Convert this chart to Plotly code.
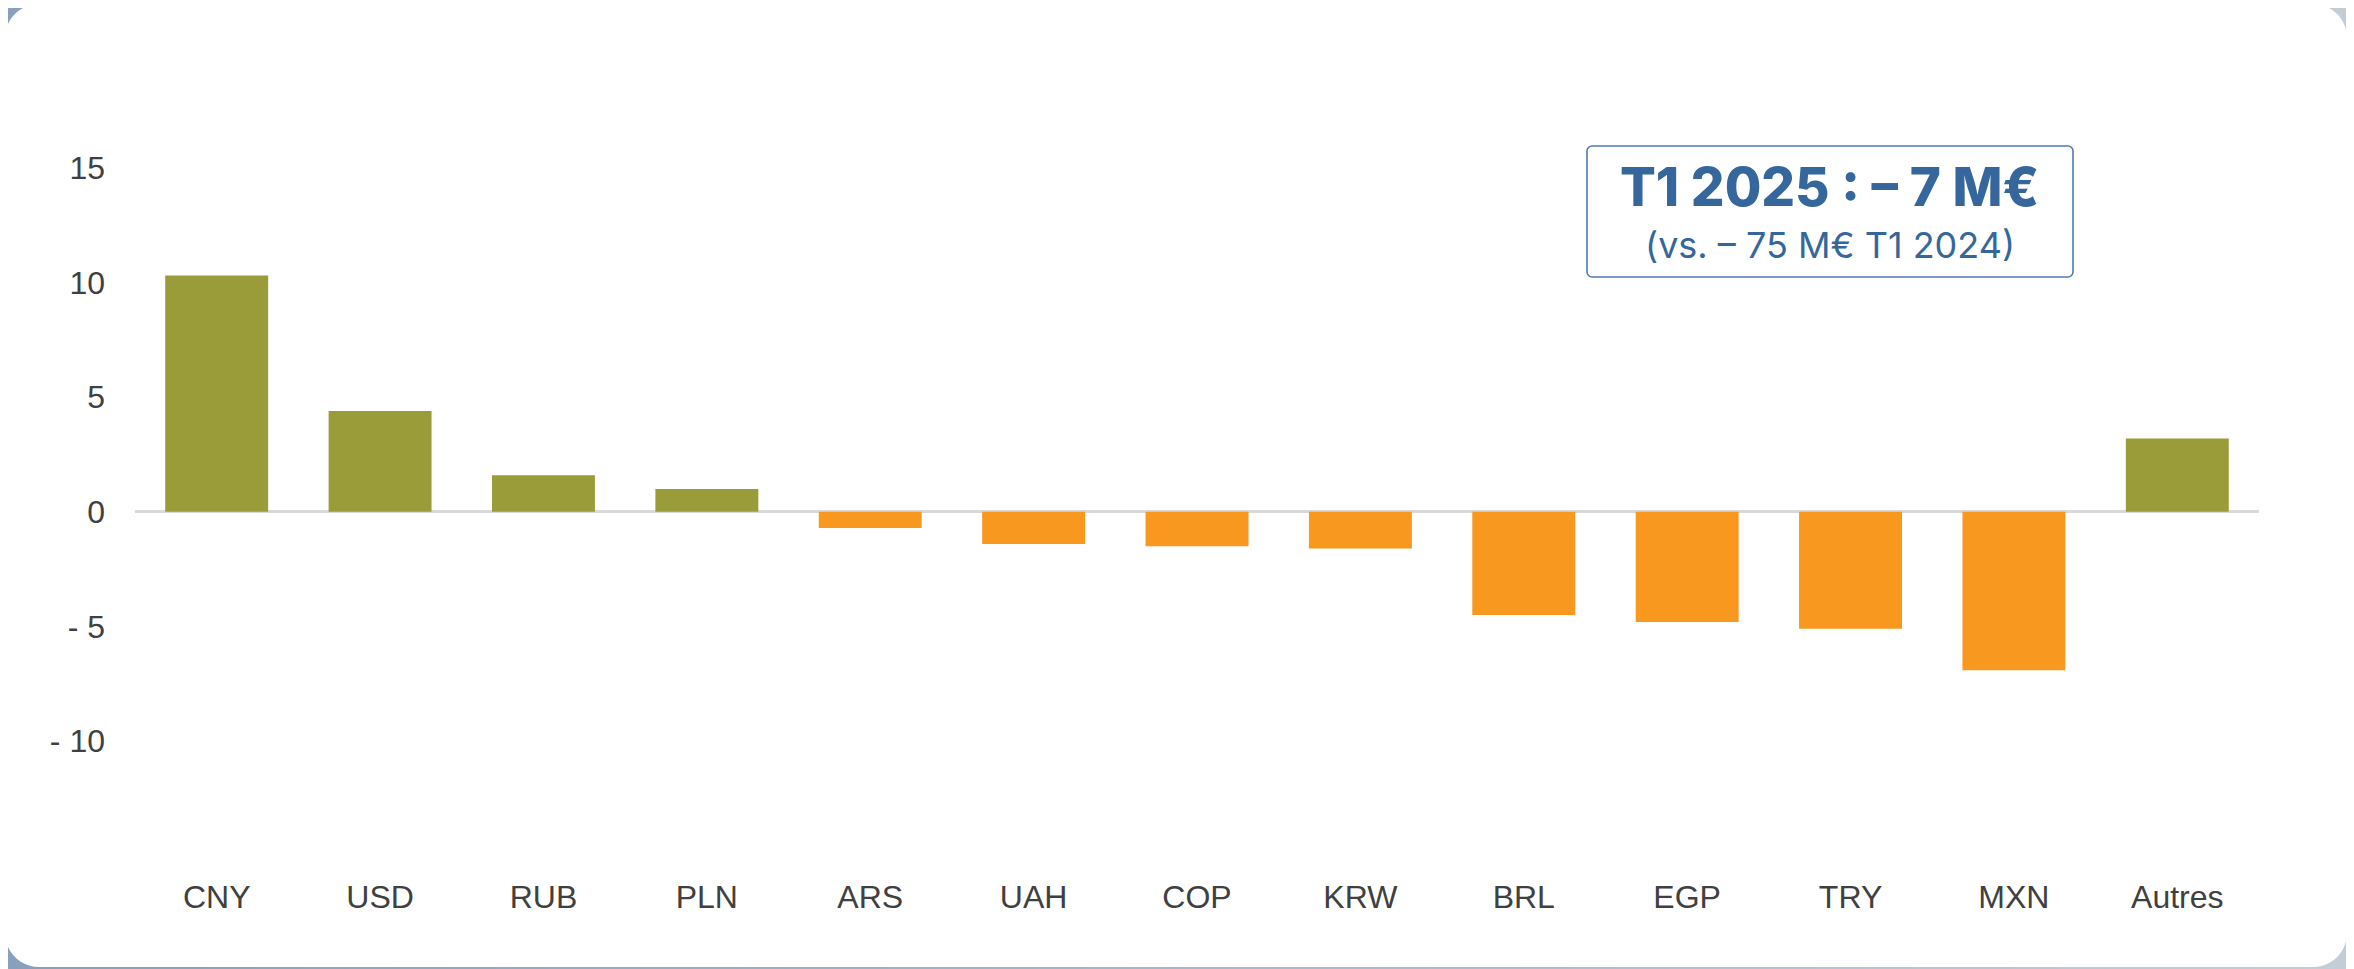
import plotly.graph_objects as go

categories = ["CNY", "USD", "RUB", "PLN", "ARS", "UAH", "COP", "KRW", "BRL", "EGP", "TRY", "MXN", "Autres"]
values = [10.3, 4.4, 1.6, 1.0, -0.7, -1.4, -1.5, -1.6, -4.5, -4.8, -5.1, -6.9, 3.2]
tick_vals = [15, 10, 5, 0, -5, -10]
tick_text = ["15", "10", "5", "0", "- 5", "- 10"]
title_line1 = "T1 2025 : – 7 M€"
title_line2 = "(vs. – 75 M€ T1 2024)"

GREEN = "#9A9B39"
ORANGE = "#F8981F"
colors = [GREEN if v >= 0 else ORANGE for v in values]

# page is offset by the default 8px body margin
OFF = 8
PW, PH = 2354, 969
W, H = PW - OFF, PH - OFF
# plot area in page pixels
L, R, T, B = 135, 2259, 53, 856


def px(x):
    return (x - L) / (R - L)


def py(y):
    return (B - y) / (B - T)


def rounded_rect(x0, y0, x1, y1, r):
    k = 0.5523 * r
    X = lambda v: f"{px(v):.6f}"
    Y = lambda v: f"{py(v):.6f}"
    p = []
    p.append(f"M {X(x0 + r)},{Y(y0)}")
    p.append(f"L {X(x1 - r)},{Y(y0)}")
    p.append(f"C {X(x1 - r + k)},{Y(y0)} {X(x1)},{Y(y0 + r - k)} {X(x1)},{Y(y0 + r)}")
    p.append(f"L {X(x1)},{Y(y1 - r)}")
    p.append(f"C {X(x1)},{Y(y1 - r + k)} {X(x1 - r + k)},{Y(y1)} {X(x1 - r)},{Y(y1)}")
    p.append(f"L {X(x0 + r)},{Y(y1)}")
    p.append(f"C {X(x0 + r - k)},{Y(y1)} {X(x0)},{Y(y1 - r + k)} {X(x0)},{Y(y1 - r)}")
    p.append(f"L {X(x0)},{Y(y0 + r)}")
    p.append(f"C {X(x0)},{Y(y0 + r - k)} {X(x0 + r - k)},{Y(y0)} {X(x0 + r)},{Y(y0)}")
    p.append("Z")
    return " ".join(p)


def lerp_color(c0, c1, t):
    a = [int(c0[i:i + 2], 16) for i in (1, 3, 5)]
    b = [int(c1[i:i + 2], 16) for i in (1, 3, 5)]
    return "#" + "".join(f"{round(a[i] + (b[i] - a[i]) * t):02x}" for i in range(3))


shapes = []
N = 48
for i in range(N):
    x0 = OFF + W * i / N
    x1 = OFF + W * (i + 1) / N + 1
    shapes.append(dict(type="rect", xref="paper", yref="paper",
                       x0=px(x0), x1=px(x1), y0=py(PH + 2), y1=py(OFF - 2),
                       fillcolor=lerp_color("#88a0bb", "#c4ccd6", i / (N - 1)),
                       line=dict(width=0), layer="below"))

# white card
shapes.append(dict(type="path", xref="paper", yref="paper",
                   path=rounded_rect(5, 4, 2347, 967, 34),
                   fillcolor="white", line=dict(width=0), layer="below"))

# info box
shapes.append(dict(type="path", xref="paper", yref="paper",
                   path=rounded_rect(1587, 146, 2073, 277, 5),
                   fillcolor="rgba(0,0,0,0)", line=dict(color="#4F7CB3", width=1.6),
                   layer="above"))

fig = go.Figure()
fig.add_trace(go.Bar(x=categories, y=values, marker=dict(color=colors, line=dict(width=0)),
                     width=0.63, hoverinfo="x+y"))

annotations = [
    dict(xref="paper", yref="paper", x=px(1830), y=py(187), xanchor="center", yanchor="middle",
         text=title_line1, showarrow=False,
         font=dict(family="Inter, Lato, sans-serif", size=53, weight=800, color="#35679C")),
    dict(xref="paper", yref="paper", x=px(1830), y=py(245), xanchor="center", yanchor="middle",
         text=title_line2, showarrow=False,
         font=dict(family="Inter, Lato, sans-serif", size=36, color="#35679C")),
]

fig.update_layout(
    width=W, height=H,
    margin=dict(l=L - OFF, r=PW - R, t=T - OFF, b=PH - B, pad=0),
    paper_bgcolor="#a8b6c8",
    plot_bgcolor="white",
    showlegend=False,
    bargap=0.37,
    shapes=shapes,
    annotations=annotations,
    font=dict(family="Liberation Sans, Arial, sans-serif", size=32, color="#404040"),
    xaxis=dict(showgrid=False, showline=False, ticks="", zeroline=False,
               ticklabelstandoff=19, tickfont=dict(size=32, color="#404040")),
    yaxis=dict(range=[-15, 20], tickvals=tick_vals, ticktext=tick_text,
               showgrid=False, showline=False, ticks="",
               zeroline=True, zerolinecolor="#D9D9D9", zerolinewidth=2.5,
               ticklabelstandoff=29, tickfont=dict(size=32, color="#404040")),
)

fig.write_html("out.html")
